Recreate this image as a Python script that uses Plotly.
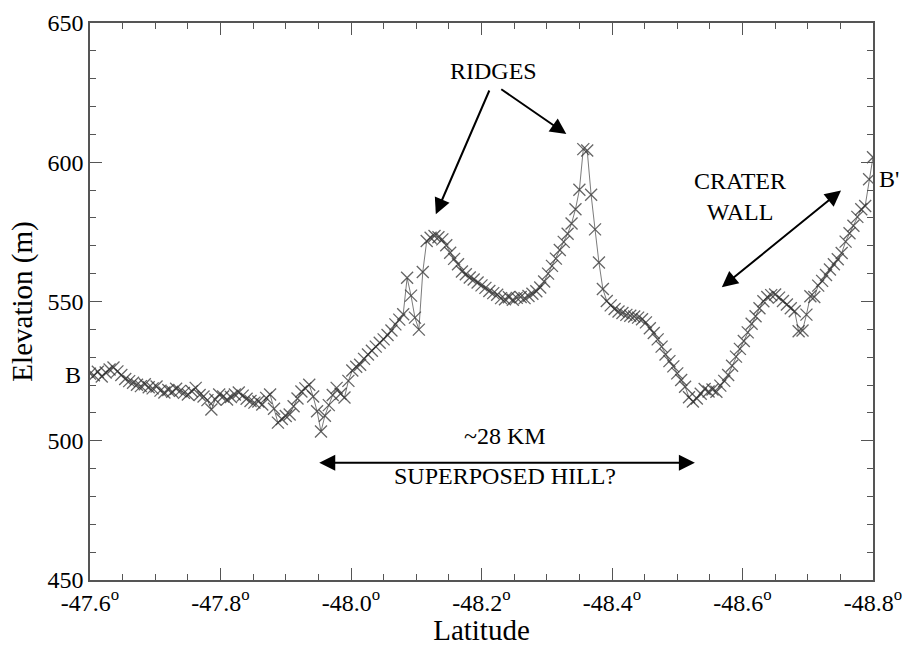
import plotly.graph_objects as go

# Elevation profile B-B' across latitude (degrees) and elevation (m)
latitude = [
    -47.600, -47.606, -47.612, -47.618, -47.624, -47.630, -47.636, -47.642, -47.648, -47.654,
    -47.660, -47.666, -47.672, -47.678, -47.684, -47.690, -47.696, -47.702, -47.708, -47.714,
    -47.720, -47.726, -47.732, -47.738, -47.744, -47.750, -47.756, -47.762, -47.768, -47.774,
    -47.780, -47.786, -47.792, -47.798, -47.804, -47.810, -47.816, -47.822, -47.828, -47.834,
    -47.840, -47.846, -47.852, -47.858, -47.864, -47.870, -47.876, -47.882, -47.888, -47.894,
    -47.900, -47.906, -47.912, -47.918, -47.924, -47.930, -47.936, -47.942, -47.948, -47.954,
    -47.960, -47.966, -47.972, -47.978, -47.984, -47.990, -47.996, -48.002, -48.008, -48.014,
    -48.020, -48.026, -48.032, -48.038, -48.044, -48.050, -48.056, -48.062, -48.068, -48.074,
    -48.080, -48.086, -48.092, -48.098, -48.104, -48.110, -48.116, -48.122, -48.128, -48.134,
    -48.140, -48.146, -48.152, -48.158, -48.164, -48.170, -48.176, -48.182, -48.188, -48.194,
    -48.200, -48.206, -48.212, -48.218, -48.224, -48.230, -48.236, -48.242, -48.248, -48.254,
    -48.260, -48.266, -48.272, -48.278, -48.284, -48.290, -48.296, -48.302, -48.308, -48.314,
    -48.320, -48.326, -48.332, -48.338, -48.344, -48.350, -48.356, -48.362, -48.368, -48.374,
    -48.380, -48.386, -48.392, -48.398, -48.404, -48.410, -48.416, -48.422, -48.428, -48.434,
    -48.440, -48.446, -48.452, -48.458, -48.464, -48.470, -48.476, -48.482, -48.488, -48.494,
    -48.500, -48.506, -48.512, -48.518, -48.524, -48.530, -48.536, -48.542, -48.548, -48.554,
    -48.560, -48.566, -48.572, -48.578, -48.584, -48.590, -48.596, -48.602, -48.608, -48.614,
    -48.620, -48.626, -48.632, -48.638, -48.644, -48.650, -48.656, -48.662, -48.668, -48.674,
    -48.680, -48.686, -48.692, -48.698, -48.704, -48.710, -48.716, -48.722, -48.728, -48.734,
    -48.740, -48.746, -48.752, -48.758, -48.764, -48.770, -48.776, -48.782, -48.788, -48.794,
    -48.800,
]

elevation = [
    524.1, 523.5, 524.8, 523.1, 524.5, 525.6, 526.3, 524.9, 523.6, 522.2,
    521.4, 520.8, 520.1, 519.6, 520.3, 519.2, 518.8, 519.5, 518.0, 517.3,
    518.2, 517.6, 518.7, 517.9, 517.2, 516.6, 517.8, 519.0, 516.4, 515.9,
    514.6, 511.2, 514.8, 516.6, 515.9, 514.8, 515.7, 516.6, 517.3, 516.2,
    515.1, 514.3, 513.7, 514.1, 513.0, 515.4, 516.6, 511.5, 506.5, 507.8,
    508.9, 509.4, 512.4, 515.2, 517.7, 518.8, 520.1, 515.9, 510.6, 503.3,
    509.0, 512.8, 516.4, 519.0, 516.9, 515.5, 521.5, 525.2, 526.6, 527.3,
    529.4, 531.0, 532.3, 533.8, 535.2, 536.4, 538.0, 539.6, 541.8, 543.5,
    545.4, 558.5, 552.1, 544.2, 539.9, 560.6, 571.7, 572.9, 573.5, 573.1,
    572.3, 570.2, 567.5, 565.3, 563.4, 560.8, 559.8, 558.6, 557.9, 556.8,
    555.8, 554.9, 553.8, 553.0, 552.4, 551.2, 550.8, 551.5, 550.6, 551.3,
    551.6, 551.2, 552.0, 552.8, 553.7, 555.0, 557.2, 560.0, 562.8, 565.4,
    568.5, 571.4, 574.3, 578.0, 583.1, 590.1, 604.7, 604.2, 588.3, 575.9,
    564.0, 554.5, 550.2, 548.6, 547.3, 546.4, 545.9, 545.2, 544.9, 544.6,
    544.2, 543.6, 542.5, 540.4, 538.7, 536.4, 533.8, 531.0, 528.6, 526.7,
    524.2, 521.8, 519.4, 515.6, 514.1, 515.2, 516.9, 518.6, 517.7, 518.4,
    517.6, 519.8, 521.5, 523.6, 526.9, 530.2, 533.0, 535.8, 538.9, 542.0,
    544.7, 547.6, 550.1, 551.6, 552.3, 552.5, 551.4, 550.2, 548.9, 547.6,
    546.5, 539.3, 539.6, 545.3, 551.9, 551.6, 555.7, 557.4, 559.5, 561.5,
    563.4, 565.2, 567.4, 571.5, 574.5, 577.2, 580.4, 583.1, 584.3, 593.9,
    601.8,
]

tick_values = [-47.6, -47.8, -48.0, -48.2, -48.4, -48.6, -48.8]
tick_labels = ["-47.6", "-47.8", "-48.0", "-48.2", "-48.4", "-48.6", "-48.8"]

FONT = "Liberation Serif, Times New Roman, serif"
AXIS_COLOR = "#555555"
ARROW = dict(arrowhead=2, arrowsize=1.6, arrowwidth=2, arrowcolor="black",
             standoff=0)
DOUBLE = dict(arrowside="end+start", startarrowhead=2, startarrowsize=1.6,
              startstandoff=0)

fig = go.Figure()
fig.add_trace(go.Scatter(
    x=latitude,
    y=elevation,
    mode="lines+markers",
    line=dict(color="rgba(90,90,90,0.8)", width=1),
    marker=dict(symbol="x-thin", size=12,
                line=dict(color="rgba(50,50,50,0.75)", width=1.3)),
    showlegend=False,
    hoverinfo="x+y",
))

annotations = [
    # labels
    dict(x=-48.218, y=632.7, text="RIDGES", showarrow=False),
    dict(x=-48.596, y=587.8, text="CRATER<br>WALL", showarrow=False),
    dict(x=-48.236, y=501.8, text="~28 KM", showarrow=False),
    dict(x=-48.236, y=487.4, text="SUPERPOSED HILL?", showarrow=False),
    dict(xref="paper", x=-0.022, y=523.7, text="B", showarrow=False),
    dict(xref="paper", x=1.021, y=594.0, text="B'", showarrow=False),
    # ridge arrows
    dict(x=-48.130, y=581.3, ax=-48.213, ay=626.3, axref="x", ayref="y",
         text="", showarrow=True, **ARROW),
    dict(x=-48.330, y=610.1, ax=-48.228, ay=626.6, axref="x", ayref="y",
         text="", showarrow=True, **ARROW),
    # crater wall double arrow
    dict(x=-48.751, y=589.9, ax=-48.566, ay=554.7, axref="x", ayref="y",
         text="", showarrow=True, **ARROW, **DOUBLE),
    # hill extent double arrow
    dict(x=-48.527, y=492.1, ax=-47.949, ay=492.1, axref="x", ayref="y",
         text="", showarrow=True, **ARROW, **DOUBLE),
]
for a in annotations:
    a.setdefault("xref", "x")
    a.setdefault("yref", "y")
    a["xanchor"] = "center"
    a["yanchor"] = "middle"
    a["font"] = dict(family=FONT, size=24, color="black")

fig.update_layout(
    width=904,
    height=646,
    margin=dict(l=90, r=31, t=23, b=66),
    paper_bgcolor="white",
    plot_bgcolor="white",
    font=dict(family=FONT, size=24, color="black"),
    annotations=annotations,
    xaxis=dict(
        range=[-47.6, -48.8],
        tickmode="array",
        tickvals=tick_values,
        ticktext=[t + "<sup>o</sup>" for t in tick_labels],
        ticks="inside",
        ticklen=12,
        tickwidth=1,
        tickcolor=AXIS_COLOR,
        minor=dict(dtick=0.05, ticks="inside", ticklen=6, tickcolor=AXIS_COLOR),
        showline=True,
        linecolor=AXIS_COLOR,
        linewidth=1.5,
        mirror="allticks",
        showgrid=False,
        zeroline=False,
        automargin=False,
        title=dict(text="Latitude", standoff=6),
        tickfont=dict(family=FONT, size=24),
    ),
    yaxis=dict(
        range=[450, 650],
        tickvals=[450, 500, 550, 600, 650],
        ticks="inside",
        ticklen=12,
        tickwidth=1,
        tickcolor=AXIS_COLOR,
        minor=dict(dtick=10, ticks="inside", ticklen=6, tickcolor=AXIS_COLOR),
        showline=True,
        linecolor=AXIS_COLOR,
        linewidth=1.5,
        mirror="allticks",
        showgrid=False,
        zeroline=False,
        automargin=False,
        title=dict(text="Elevation (m)", standoff=6),
        tickfont=dict(family=FONT, size=24),
    ),
)

fig.write_html("out.html")
